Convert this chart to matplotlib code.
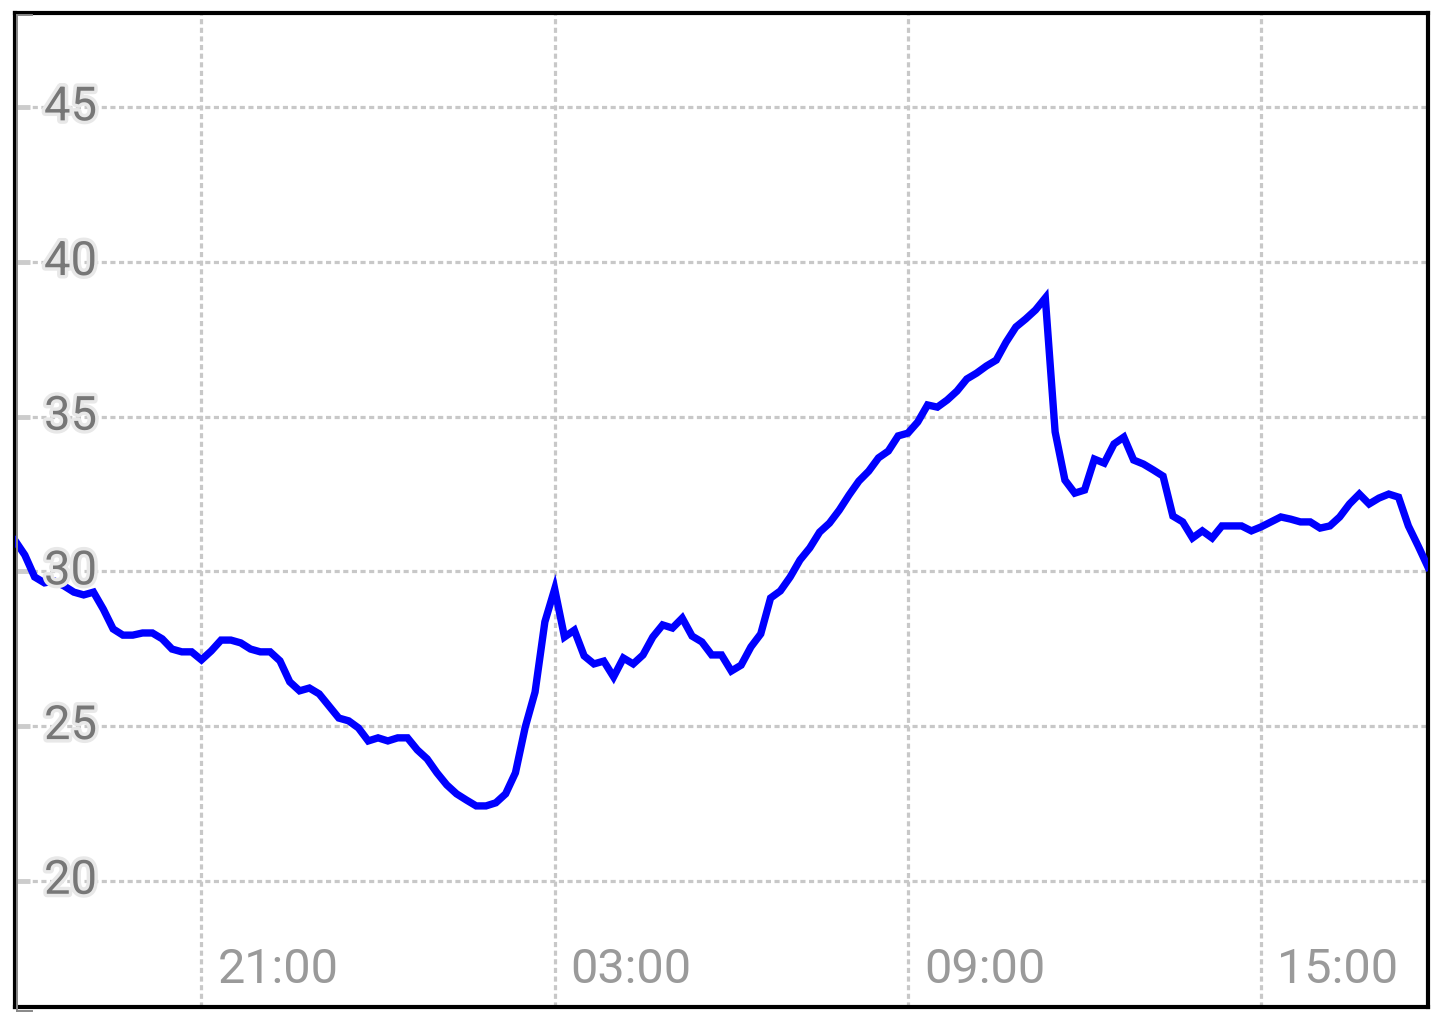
import pandas as pd
import matplotlib
matplotlib.use('Agg')
import matplotlib.pyplot as plt
import matplotlib.dates as mdates
import matplotlib.patheffects as pe
from matplotlib.lines import Line2D

# readings every 10 minutes, 17:50 -> 17:50 next day
start = '2020-06-01 17:50'
temps = [31.0, 30.53, 29.82, 29.63, 29.69, 29.53, 29.33, 29.24, 29.33, 28.78,
         28.14, 27.94, 27.94, 28.01, 28.01, 27.82, 27.49, 27.40, 27.40, 27.14,
         27.43, 27.78, 27.78, 27.69, 27.49, 27.40, 27.40, 27.11, 26.43, 26.14,
         26.23, 26.04, 25.65, 25.26, 25.17, 24.94, 24.52, 24.62, 24.52, 24.62,
         24.62, 24.23, 23.94, 23.49, 23.10, 22.81, 22.61, 22.42, 22.42, 22.52,
         22.81, 23.49, 24.97, 26.10, 28.37, 29.43, 27.88, 28.10, 27.27, 27.01,
         27.10, 26.59, 27.20, 27.01, 27.30, 27.88, 28.27, 28.17, 28.49, 27.91,
         27.72, 27.30, 27.30, 26.78, 26.97, 27.56, 27.98, 29.14, 29.37, 29.82,
         30.37, 30.76, 31.27, 31.56, 31.98, 32.47, 32.92, 33.24, 33.67, 33.89,
         34.38, 34.47, 34.83, 35.38, 35.31, 35.54, 35.83, 36.22, 36.41, 36.64,
         36.83, 37.41, 37.90, 38.16, 38.45, 38.84, 34.51, 32.95, 32.53, 32.63,
         33.63, 33.50, 34.12, 34.34, 33.60, 33.47, 33.28, 33.08, 31.79, 31.60,
         31.08, 31.31, 31.08, 31.47, 31.47, 31.47, 31.31, 31.44, 31.60, 31.76,
         31.69, 31.60, 31.60, 31.40, 31.47, 31.76, 32.18, 32.50, 32.18, 32.37,
         32.50, 32.40, 31.47, 30.82, 30.14]
times = pd.date_range(start, periods=len(temps), freq='10min')

y_ticks = [20, 25, 30, 35, 40, 45]
x_hours = [21, 3, 9, 15]

plt.rcParams['font.family'] = ['Roboto', 'DejaVu Sans']

fig = plt.figure(figsize=(14.4, 10.2), dpi=100)
ax = fig.add_axes([15/1440, 12/1020, 1413/1440, 994/1020])

ax.plot(times, temps, color='#0000ff', lw=5.3, solid_joinstyle='miter', zorder=3)

ax.set_xlim(times[0], times[-1])
ax.set_ylim(15.92, 48.05)

ax.set_yticks(y_ticks)
ax.xaxis.set_major_locator(mdates.HourLocator(byhour=x_hours))
ax.grid(True, color='#c8c8c8', lw=2.3, linestyle=(0, (1.6, 1.1)))
ax.tick_params(axis='y', direction='in', length=11, width=3.5, color='#cccccc',
               labelleft=False)
ax.tick_params(axis='x', length=0, labelbottom=False)

for s in ax.spines.values():
    s.set_color('black')
    s.set_linewidth(3)

# thin grey axis line just inside the frame
for xs, ys in [([17, 17], [1004, 8]), ([17, 32], [1004, 1004]), ([17, 32], [8, 8])]:
    fig.add_artist(Line2D(xs, ys, transform=None, color='#888888', lw=1.4, zorder=1))

# labels drawn inside the plot area
for v in y_ticks:
    ax.text(29/1413, v, str(v), transform=ax.get_yaxis_transform(),
            ha='left', va='center', fontsize=34, color='#777777', zorder=6,
            path_effects=[pe.withStroke(linewidth=5, foreground='#e8e8e8')])

for t in ax.get_xticks():
    ax.annotate(mdates.num2date(t).strftime('%H:%M'), (t, 0),
                xycoords=('data', 'axes fraction'), xytext=(16, 25),
                textcoords='offset pixels', ha='left', va='baseline',
                fontsize=35, color='#9a9a9a', zorder=6)

fig.savefig('out.png', dpi=100)
